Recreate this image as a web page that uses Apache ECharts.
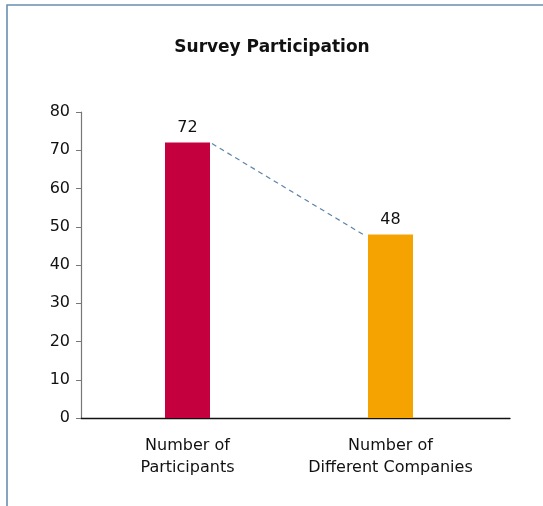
<!DOCTYPE html>
<html>
<head>
<meta charset="utf-8">
<script src="https://cdn.jsdelivr.net/npm/echarts@6/dist/echarts.min.js"></script>
<style>
  html, body { margin: 0; padding: 0; background: #fff; }
  #chart { width: 543px; height: 506px; }
</style>
</head>
<body>
<div id="chart"></div>
<script>
// Survey participation counts
const categories = ['Number of\nParticipants', 'Number of\nDifferent Companies'];
const values = [72, 48];
const barColors = ['#c4003f', '#f5a300'];
const yTicks = { min: 0, max: 80, interval: 10 };

const FONT = '"DejaVu Sans", "Liberation Sans", Arial, sans-serif';
const BAR_W = 45;

const chart = echarts.init(document.getElementById('chart'), null, { renderer: 'canvas' });

const option = {
  backgroundColor: '#ffffff',
  animation: false,
  title: {
    text: 'Survey Participation',
    left: 267,
    textAlign: 'center',
    top: 34,
    textStyle: { fontFamily: FONT, fontSize: 17, fontWeight: 'bold', color: '#111' }
  },
  graphic: [
    {
      // frame around the figure (left and top edges)
      type: 'polyline',
      shape: { points: [[7, 506], [7, 5], [543, 5]] },
      style: { stroke: '#6a8fae', lineWidth: 1.6, fill: null },
      silent: true
    }
  ],
  grid: [
    // bar area
    { left: 86, right: 51, top: 112, bottom: 88 },
    // full axis frame
    { left: 81, right: 33, top: 112, bottom: 88 }
  ],
  xAxis: [
    {
      gridIndex: 0,
      type: 'category',
      data: categories,
      axisLine: { show: false },
      axisTick: { show: false },
      axisLabel: {
        interval: 0,
        fontFamily: FONT, fontSize: 16, color: '#111',
        lineHeight: 22, margin: 17
      }
    },
    {
      gridIndex: 1,
      type: 'value',
      min: 0, max: 1,
      axisLine: { show: true, lineStyle: { color: '#111', width: 1.3 } },
      axisTick: { show: false },
      axisLabel: { show: false },
      splitLine: { show: false }
    }
  ],
  yAxis: [
    {
      gridIndex: 0,
      type: 'value',
      min: yTicks.min, max: yTicks.max, interval: yTicks.interval,
      show: false
    },
    {
      gridIndex: 1,
      type: 'value',
      min: yTicks.min, max: yTicks.max, interval: yTicks.interval,
      axisLine: { show: true, lineStyle: { color: '#777', width: 1.2 } },
      axisTick: { show: true, length: 5, lineStyle: { color: '#777', width: 1 } },
      axisLabel: { fontFamily: FONT, fontSize: 16, color: '#111', margin: 11 },
      splitLine: { show: false }
    }
  ],
  series: [
    {
      type: 'bar',
      xAxisIndex: 0,
      yAxisIndex: 0,
      barWidth: BAR_W,
      data: values.map((v, i) => ({ value: v, itemStyle: { color: barColors[i] } })),
      label: {
        show: true,
        position: 'top',
        distance: 7,
        fontFamily: FONT, fontSize: 16, color: '#111'
      }
    },
    {
      // dashed connector between the tops of the two bars
      type: 'custom',
      xAxisIndex: 0,
      yAxisIndex: 0,
      data: [0],
      z: 3,
      renderItem: function (params, api) {
        const p1 = api.coord([0, values[0]]);
        const p2 = api.coord([1, values[1]]);
        const hw = BAR_W / 2;
        return {
          type: 'line',
          shape: { x1: p1[0] + hw + 2, y1: p1[1] + 1, x2: p2[0] - hw - 5, y2: p2[1] },
          style: { stroke: '#5b84a8', lineWidth: 1.2, lineDash: [5, 4] }
        };
      }
    }
  ]
};

chart.setOption(option);
</script>
</body>
</html>
